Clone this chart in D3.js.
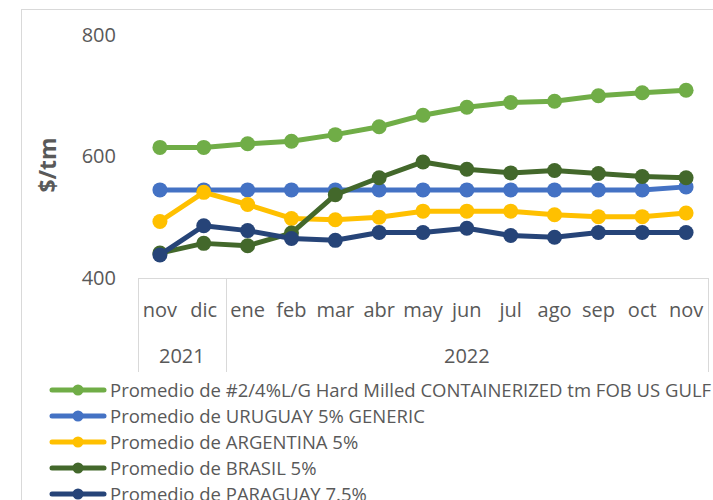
<!DOCTYPE html>
<html>
<head>
<meta charset="utf-8">
<script src="https://cdn.jsdelivr.net/npm/d3@7"></script>
<style>
  body { margin: 0; background: #fff; }
  text { font-family: "Open Sans", sans-serif; fill: #595959; }
</style>
</head>
<body>
<svg width="713" height="500"></svg>
<script>
const width = 713;
const height = 500;

// data
const months = ["nov", "dic", "ene", "feb", "mar", "abr", "may", "jun", "jul", "ago", "sep", "oct", "nov"];
const years = [{label: "2021", from: 0, to: 2}, {label: "2022", from: 2, to: 13}];

const usGulf   = [615, 615, 621, 625, 636, 649, 668, 681, 689, 691, 700, 705, 709];
const uruguay  = [545, 545, 545, 545, 545, 545, 545, 545, 545, 545, 545, 545, 550];
const argentina = [493, 541, 521, 498, 496, 500, 510, 510, 510, 504, 501, 501, 507];
const brasil   = [441, 457, 453, 474, 537, 565, 591, 579, 573, 577, 572, 567, 565];
const paraguay = [438, 486, 478, 465, 462, 475, 475, 482, 470, 467, 475, 475, 475];

const seriesNames = [
  "Promedio de #2/4%L/G Hard Milled CONTAINERIZED tm FOB US GULF",
  "Promedio de URUGUAY 5% GENERIC",
  "Promedio de ARGENTINA 5%",
  "Promedio de BRASIL 5%",
  "Promedio de PARAGUAY 7.5%"
];
const seriesColors = ["#70AD47", "#4472C4", "#FFC000", "#43682B", "#264478"];
const series = [usGulf, uruguay, argentina, brasil, paraguay].map((vals, i) => ({
  name: seriesNames[i], color: seriesColors[i], values: vals
}));

const yTicks = [400, 600, 800];

const plot = {left: 138, right: 708, top: 35, bottom: 278};

const svg = d3.select("svg");

// chart frame
svg.append("rect")
  .attr("x", 21.5).attr("y", 9.5)
  .attr("width", 720).attr("height", 520)
  .attr("fill", "none")
  .attr("stroke", "#d9d9d9");

// scales
const x = d3.scaleBand()
  .domain(d3.range(months.length))
  .range([plot.left, plot.right]);

const y = d3.scaleLinear()
  .domain([400, 800])
  .range([plot.bottom, plot.top]);

// y axis labels
const yAxis = svg.append("g")
  .attr("transform", `translate(${plot.left - 22},0)`)
  .call(d3.axisLeft(y).tickValues(yTicks).tickSize(0).tickPadding(0));
yAxis.select(".domain").remove();
yAxis.selectAll("text")
  .attr("font-size", "20px")
  .style("font-family", "Open Sans")
  .attr("fill", "#595959");

svg.append("text")
  .attr("transform", `translate(56, 165) rotate(-90)`)
  .attr("text-anchor", "middle")
  .attr("font-size", "23px")
  .attr("font-weight", "bold")
  .text("$/tm");

// category axis: two-level box
const axisG = svg.append("g");
const boxBottom = 372;
axisG.append("line")
  .attr("x1", plot.left).attr("x2", plot.right)
  .attr("y1", plot.bottom + 0.5).attr("y2", plot.bottom + 0.5)
  .attr("stroke", "#d9d9d9");

const bounds = [0].concat(years.map(d => d.to));
axisG.selectAll(".div")
  .data(bounds)
  .enter().append("line")
  .attr("x1", d => Math.round(d === months.length ? plot.right : x(d)) + 0.5)
  .attr("x2", d => Math.round(d === months.length ? plot.right : x(d)) + 0.5)
  .attr("y1", plot.bottom)
  .attr("y2", boxBottom)
  .attr("stroke", "#d9d9d9");

axisG.selectAll(".month")
  .data(months)
  .enter().append("text")
  .attr("x", (d, i) => x(i) + x.bandwidth() / 2)
  .attr("y", 317)
  .attr("text-anchor", "middle")
  .attr("font-size", "20px")
  .text(d => d);

axisG.selectAll(".year")
  .data(years)
  .enter().append("text")
  .attr("x", d => (x(d.from) + (d.to === months.length ? plot.right : x(d.to))) / 2)
  .attr("y", 363)
  .attr("text-anchor", "middle")
  .attr("font-size", "20px")
  .text(d => d.label);

// lines and markers
const line = d3.line()
  .x((d, i) => x(i) + x.bandwidth() / 2)
  .y(d => y(d));

series.forEach(s => {
  const g = svg.append("g");
  g.append("path")
    .attr("d", line(s.values))
    .attr("fill", "none")
    .attr("stroke", s.color)
    .attr("stroke-width", 5)
    .attr("stroke-linejoin", "round");
  g.selectAll("circle")
    .data(s.values)
    .enter().append("circle")
    .attr("cx", (d, i) => x(i) + x.bandwidth() / 2)
    .attr("cy", d => y(d))
    .attr("r", 7.5)
    .attr("fill", s.color);
});

// legend
const legend = svg.append("g");
series.forEach((s, i) => {
  const ly = 390 + i * 26;
  legend.append("line")
    .attr("x1", 52).attr("x2", 104)
    .attr("y1", ly).attr("y2", ly)
    .attr("stroke", s.color)
    .attr("stroke-width", 5)
    .attr("stroke-linecap", "round");
  legend.append("circle")
    .attr("cx", 78).attr("cy", ly)
    .attr("r", 5.5)
    .attr("fill", s.color);
  legend.append("text")
    .attr("x", 110)
    .attr("y", ly + 6.5)
    .attr("font-size", "18.5px")
    .text(s.name);
});
</script>
</body>
</html>
